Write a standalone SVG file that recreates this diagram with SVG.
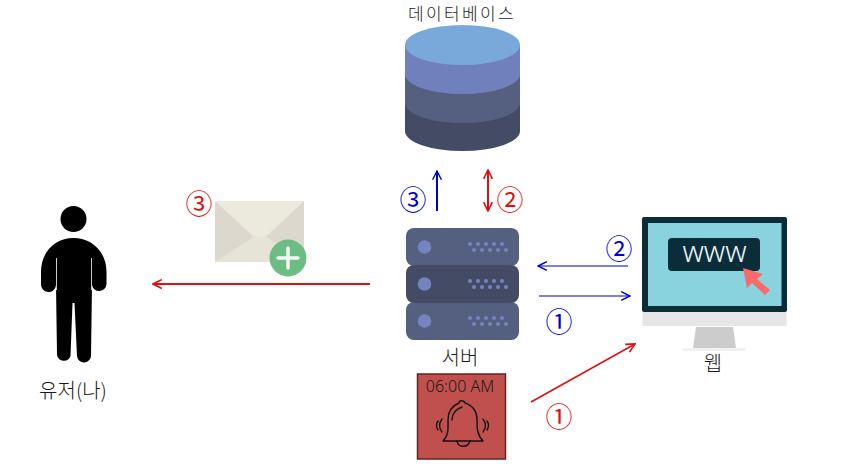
<svg xmlns="http://www.w3.org/2000/svg" width="846" height="471" viewBox="0 0 846 471">
<style>
text{font-family:"Noto Sans CJK KR","Noto Sans",sans-serif;font-weight:300;fill:#1a1a1a;text-anchor:middle}
.lbl{font-size:20px}
.c{fill:none;stroke-width:2}
.blue{stroke:#0000cc}
.red{stroke:#e01010}
.numt{font-size:27px;font-family:"Noto Sans CJK KR",sans-serif;font-weight:400}
.nb{fill:#0000cc}
.nr{fill:#e01010}
.dot{fill:#7583c0}
.sv{fill:#555f80}
</style>
<defs>
<marker id="ab" viewBox="0 0 10 10" refX="9" refY="5" markerWidth="11" markerHeight="11" markerUnits="userSpaceOnUse" orient="auto-start-reverse"><path d="M1 1L9 5L1 9" fill="none" stroke="#0000cc" stroke-width="1.3"/></marker>
<marker id="ar" viewBox="0 0 10 10" refX="9" refY="5" markerWidth="11" markerHeight="11" markerUnits="userSpaceOnUse" orient="auto-start-reverse"><path d="M1 1L9 5L1 9" fill="none" stroke="#e01010" stroke-width="1.5"/></marker>
<g id="dots"><g class="dot"><circle cx="0" cy="0" r="2"/><circle cx="8" cy="0" r="2"/><circle cx="16" cy="0" r="2"/><circle cx="24" cy="0" r="2"/><circle cx="32" cy="0" r="2"/><circle cx="4" cy="6" r="2"/><circle cx="12" cy="6" r="2"/><circle cx="20" cy="6" r="2"/><circle cx="28" cy="6" r="2"/><circle cx="36" cy="6" r="2"/></g></g>
</defs>
<rect width="846" height="471" fill="#fff"/>

<g id="connectors">
<path class="c blue" d="M437 211V171" marker-end="url(#ab)"/>
<path class="c red" d="M488 211V170" marker-start="url(#ar)" marker-end="url(#ar)"/>
<path class="c blue" style="stroke-width:1.2" d="M628 266H538" marker-end="url(#ab)"/>
<path class="c blue" style="stroke-width:1.2" d="M539 296H630" marker-end="url(#ab)"/>
<path class="c red" d="M370 284H153" marker-end="url(#ar)"/>
<path class="c red" style="stroke-width:1.6" d="M531 402L635 344" marker-end="url(#ar)"/>
</g>

<g id="database">
<path d="M405 45V131A57.500 20 0 0 0 520 131V45Z" fill="#434c64"/>
<path d="M405 45V103A57.500 20 0 0 0 520 103V45Z" fill="#555f80"/>
<path d="M405 45V74A57.500 20 0 0 0 520 74V45Z" fill="#7080bc"/>
<ellipse cx="462.500" cy="45" rx="57.500" ry="20" fill="#79a8da"/>
<text class="lbl" x="462" y="20" style="font-size:17px;letter-spacing:2.400px">데이터베이스</text>
</g>

<g id="server">
<rect class="sv" x="406" y="228" width="113" height="38" rx="8"/>
<rect class="sv" x="406" y="302" width="113" height="38" rx="8"/>
<rect x="406" y="265" width="113" height="38" rx="8" fill="#434c64"/>
<circle class="dot" cx="424.500" cy="247" r="6.800"/>
<circle class="dot" cx="424.500" cy="284" r="6.800"/>
<circle class="dot" cx="424.500" cy="321" r="6.800"/>
<use href="#dots" x="470" y="244"/>
<use href="#dots" x="470" y="281"/>
<use href="#dots" x="470" y="318"/>
<text class="lbl" x="460" y="365">서버</text>
</g>

<g id="alarm">
<rect x="417.500" y="374" width="88" height="85" fill="#c0504d" stroke="#632523" stroke-width="1.500"/>
<text x="460" y="392" style="font-size:16px;font-family:'Noto Sans',sans-serif">06:00 AM</text>
<g fill="none" stroke="#111" stroke-width="1.400" stroke-linecap="round" stroke-linejoin="round">
<path d="M443 441C449 435 448 428 448 420C448 410 454 405 459 403C459 400 464 400 465 403C471 405 477 410 477 420C477 428 477 435 483 441Z"/>
<path d="M452 420C452 413 456 409 462 407"/>
<path d="M457 441C458 448 468 448 470 441"/>
<path d="M442 419C439 423 439 428 442 432M438 421C436 424 436 427 438 430M483 419C486 423 486 428 483 432M487 421C489 424 489 427 487 430"/>
</g>
</g>

<g id="web">
<rect x="642" y="217" width="145" height="95" rx="2" fill="#0b2c39"/>
<rect x="648" y="223" width="133.500" height="83" fill="#88d3de"/>
<rect x="642.500" y="312" width="144" height="14" fill="#e6e6e6"/>
<path d="M696 327H733L736 348H693Z" fill="#cccccc"/>
<rect x="683" y="348" width="63" height="3" fill="#f1f1f1"/>
<rect x="668" y="238" width="92" height="33" rx="4" fill="#0b2c39"/>
<text x="714.500" y="262" style="font-size:29px;fill:#e8f4f6;font-family:'Noto Sans',sans-serif">www</text>
<path d="M743 268L763 274L757 279L770 290L765 295L752 283L747 288Z" fill="#fb6a6a"/>
<text class="lbl" x="713" y="371">웹</text>
</g>

<g id="mail">
<rect x="215" y="201" width="89" height="61" fill="#e9e6da"/>
<path d="M215 201L258 241L215 262ZM304 201L262 241L304 262Z" fill="#dcd8cd"/>
<path d="M215 262L258 234Q260 232 262 234L304 262Z" fill="#e6e3d7"/>
<path d="M215 201H304L264 236Q259 238 255 236Z" fill="#ece9dd"/>
<circle cx="288" cy="258" r="18.500" fill="#6bbd83"/>
<path d="M288 248V268M278 258H298" stroke="#f3f7f2" stroke-width="3.500" stroke-linecap="round"/>
</g>

<g id="user">
<circle cx="73.500" cy="219" r="13" fill="#000"/>
<path d="M73.500 238C92 238 106.500 252 106.500 272V284A7.300 7.300 0 0 1 92 285L91 355A7 7 0 0 1 77 356L74.500 303H72.500L70.500 356A7 7 0 0 1 57 355L56 285A7.300 7.300 0 0 1 41 284V272C41 252 55 238 73.500 238Z" fill="#000"/>
<path d="M56.500 258V290M91.500 258V290" stroke="#fff" stroke-width=".8" fill="none"/>
<text class="lbl" x="73" y="398">유저(나)</text>
</g>

<g id="numbers">
<text class="numt nb" x="413" y="210">③</text>
<text class="numt nr" x="510" y="210">②</text>
<text class="numt nr" x="199" y="214">③</text>
<text class="numt nb" x="619" y="259">②</text>
<text class="numt nb" x="559" y="332">①</text>
<text class="numt nr" x="559" y="427">①</text>
</g>
</svg>
